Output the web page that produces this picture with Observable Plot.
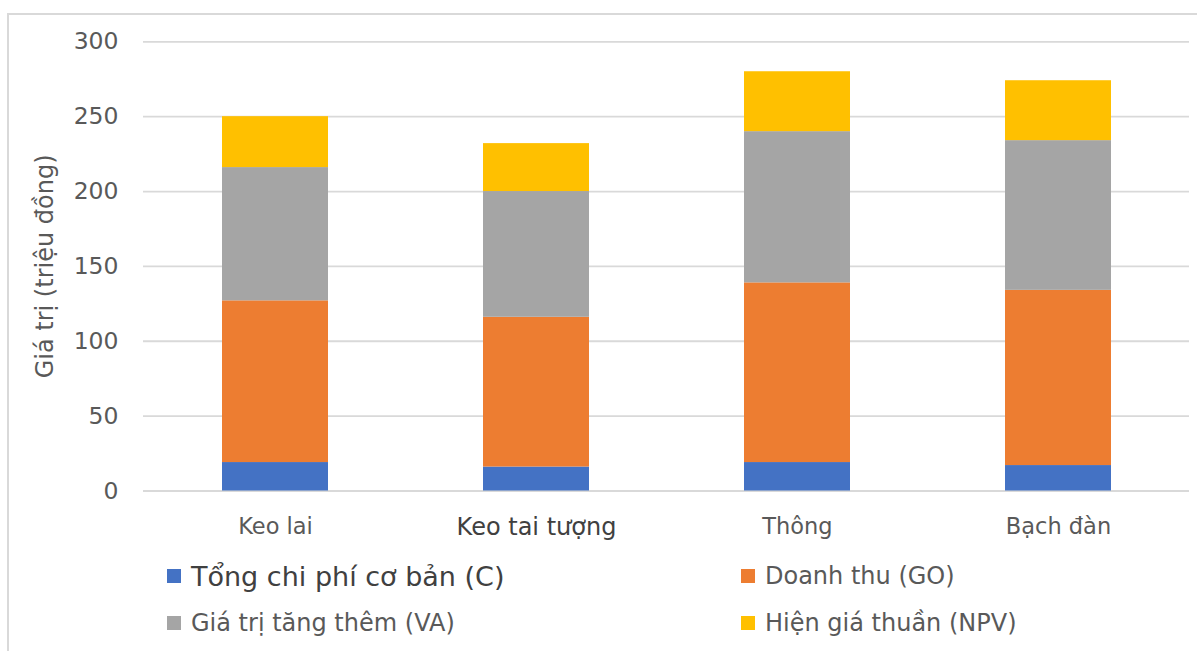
<!DOCTYPE html>
<html lang="vi">
<head>
<meta charset="utf-8">
<script src="https://cdn.jsdelivr.net/npm/d3@7"></script>
<script src="https://cdn.jsdelivr.net/npm/@observablehq/plot@0.6"></script>
<style>
  html, body { margin: 0; padding: 0; background: #ffffff; }
  #wrap { position: relative; width: 1197px; height: 651px; overflow: hidden; font-family: "DejaVu Sans", sans-serif; }
  #frame-left { position: absolute; left: 7px; top: 13px; width: 2px; bottom: 0; background: #d9d9d9; }
  #frame-top { position: absolute; left: 7px; top: 13px; right: 0; height: 2px; background: #d9d9d9; }
  #chart { position: absolute; left: 0; top: 0; }
  #legend { position: absolute; left: 0; top: 0; width: 1197px; height: 651px; pointer-events: none; }
  .item { position: absolute; display: flex; align-items: center; color: #595959; white-space: nowrap; }
  .swatch { width: 14px; height: 14px; margin-right: 10px; flex: none; }
</style>
</head>
<body>
<div id="wrap">
  <div id="frame-left"></div>
  <div id="frame-top"></div>
  <div id="chart"></div>
  <div id="legend"></div>
</div>
<script>
// Giá trị kinh tế theo loài cây trồng (triệu đồng)
const categories = ["Keo lai", "Keo tai tượng", "Thông", "Bạch đàn"];
const seriesNames = ["Tổng chi phí cơ bản (C)", "Doanh thu (GO)", "Giá trị tăng thêm (VA)", "Hiện giá thuần (NPV)"];
const seriesColors = ["#4472c4", "#ed7d31", "#a5a5a5", "#ffc000"];
const chiPhi = [19, 16, 19, 17];
const doanhThu = [108, 100, 120, 117];
const giaTriTangThem = [89, 84, 101, 100];
const hienGiaThuan = [34, 32, 40, 40];
const yTicks = [0, 50, 100, 150, 200, 250, 300];
const yLabel = "Giá trị (triệu đồng)";

const seriesValues = [chiPhi, doanhThu, giaTriTangThem, hienGiaThuan];
const rows = [];
seriesNames.forEach((s, i) => {
  categories.forEach((c, j) => rows.push({loai: c, chiTieu: s, giaTri: seriesValues[i][j]}));
});

const font = "DejaVu Sans";
const H = 545;
const chart = Plot.plot({
  width: 1197,
  height: H,
  marginLeft: 143,
  marginRight: 8,
  marginTop: 41.3,
  marginBottom: H - 490.5,
  style: {fontFamily: font, background: "transparent", overflow: "visible"},
  x: {domain: categories, paddingInner: 0.595, paddingOuter: 0.2975, axis: null},
  y: {domain: [0, 300], axis: null},
  color: {domain: seriesNames, range: seriesColors},
  marks: [
    Plot.gridY(yTicks, {stroke: "#d9d9d9", strokeOpacity: 1, strokeWidth: 1.8}),
    Plot.barY(rows, {x: "loai", y: "giaTri", fill: "chiTieu", inset: 0}),
    Plot.axisY(yTicks, {tickSize: 0, tickPadding: 25, fontSize: 23.5, fill: "#595959", label: null}),
    Plot.axisX(categories.filter(c => c !== "Keo tai tượng"), {tickSize: 0, tickPadding: 27, fontSize: 22.5, fill: "#595959", label: null}),
    Plot.axisX(["Keo tai tượng"], {tickSize: 0, tickPadding: 27, fontSize: 24, fill: "#404040", label: null}),
    Plot.text([yLabel], {text: d => d, frameAnchor: "left", textAnchor: "middle", lineAnchor: "middle", dx: -98, rotate: -90, fontSize: 24, fill: "#595959"})
  ]
});
document.getElementById("chart").appendChild(chart);

// Chú giải: hai cột, hai hàng
const legend = document.getElementById("legend");
const pos = [
  {left: 167, top: 576, size: 27, color: "#404040"},
  {left: 741, top: 576, size: 24, color: "#595959"},
  {left: 167, top: 623, size: 24, color: "#595959"},
  {left: 741, top: 623, size: 24, color: "#595959"}
];
seriesNames.forEach((s, i) => {
  const p = pos[i];
  const item = document.createElement("div");
  item.className = "item";
  item.style.left = p.left + "px";
  item.style.top = (p.top - 20) + "px";
  item.style.height = "40px";
  item.style.fontSize = p.size + "px";
  item.style.color = p.color;
  const sw = document.createElement("span");
  sw.className = "swatch";
  sw.style.background = seriesColors[i];
  const tx = document.createElement("span");
  tx.textContent = s;
  item.appendChild(sw);
  item.appendChild(tx);
  legend.appendChild(item);
});
</script>
</body>
</html>
